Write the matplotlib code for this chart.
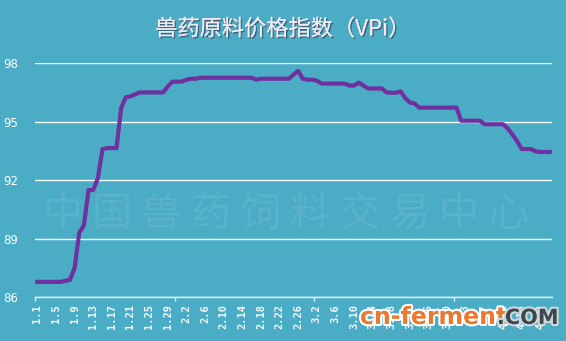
"""
兽药原料价格指数（VPi）折线图
"""

import matplotlib
matplotlib.use("Agg")
import matplotlib.pyplot as plt
import matplotlib.patheffects as pe
import numpy as np

# 数据：1.1 至 4.21 每日指数
values = [
    86.8, 86.8, 86.8, 86.8, 86.8, 86.8, 86.85, 86.9, 87.5, 89.3,
    89.7, 91.5, 91.5, 92.1, 93.6, 93.65, 93.65, 93.65, 95.7, 96.25,
    96.3, 96.4, 96.5, 96.5, 96.5, 96.5, 96.5, 96.5, 96.8, 97.05,
    97.05, 97.05, 97.15, 97.2, 97.2, 97.25, 97.25, 97.25, 97.25, 97.25,
    97.25, 97.25, 97.25, 97.25, 97.25, 97.25, 97.25, 97.15, 97.2, 97.2,
    97.2, 97.2, 97.2, 97.2, 97.2, 97.4, 97.6, 97.2, 97.15, 97.15,
    97.1, 96.95, 96.95, 96.95, 96.95, 96.95, 96.95, 96.85, 96.85, 97.0,
    96.85, 96.7, 96.7, 96.7, 96.7, 96.5, 96.48, 96.48, 96.55, 96.2,
    95.98, 95.93, 95.72, 95.72, 95.72, 95.72, 95.72, 95.72, 95.72, 95.72,
    95.72, 95.05, 95.05, 95.05, 95.05, 95.05, 94.87, 94.87, 94.87, 94.87,
    94.87, 94.65, 94.35, 94.0, 93.6, 93.6, 93.6, 93.48, 93.45, 93.45,
    93.45,
]
tick_labels = [
    "1.1", "1.5", "1.9", "1.13", "1.17", "1.21", "1.25", "1.29",
    "2.2", "2.6", "2.10", "2.14", "2.18", "2.22", "2.26",
    "3.2", "3.6", "3.10", "3.14", "3.18", "3.22", "3.26", "3.30",
    "4.3", "4.7", "4.11", "4.15", "4.19",
]
y_ticks = [86, 89, 92, 95, 98]
title = "兽药原料价格指数（VPi）"
watermark = "中国兽药饲料交易中心"

BG = "#4BACC6"
LINE = "#7030A0"

plt.rcParams["font.family"] = ["Noto Sans CJK SC", "DejaVu Sans"]

fig = plt.figure(figsize=(5.66, 3.41), dpi=100, facecolor=BG)
ax = fig.add_axes([0.0618, 0.1276, 0.9135, 0.6874], facecolor=BG)

x = np.arange(len(values))
ax.plot(x, values, color=LINE, lw=3.0, solid_joinstyle="round", zorder=3)

ax.set_xlim(-0.5, len(values) - 0.5)
ax.set_ylim(86, 98)

# 网格线
ax.set_yticks(y_ticks)
ax.yaxis.grid(True, color="white", lw=1.0)
ax.set_axisbelow(True)
for s in ["top", "right", "left"]:
    ax.spines[s].set_visible(False)
ax.spines["bottom"].set_color("#dfeff4")
ax.spines["bottom"].set_linewidth(1.0)

ax.tick_params(axis="y", length=0, pad=12, labelcolor="white", labelsize=8.5)
ax.set_yticklabels([str(v) for v in y_ticks], family="Arial")

# 日期标签，每 4 天一个
ax.set_xticks(x[::4])
ax.set_xticklabels(tick_labels, rotation=90, family="DejaVu Sans Mono", fontweight="bold")
ax.tick_params(axis="x", length=0, pad=5, labelcolor="#f4f8fa", labelsize=7.5)
ax.set_xticks(np.arange(-0.5, len(values), 30), minor=True)
ax.tick_params(axis="x", which="minor", length=3, color="#dfeff4", width=1)

# 水印
for k, ch in enumerate(watermark):
    fig.text(0.1095 + k * 0.0876, 0.372, ch, fontsize=29, color="white",
             alpha=0.08, ha="center", va="center")

fig.text(0.5, 0.915, title, fontsize=16, color="#f3e9f2", ha="center", va="center",
         path_effects=[pe.withSimplePatchShadow(offset=(1, -1), shadow_rgbFace="#303040", alpha=0.6),
                       pe.Normal()])

# 站点标识
fig.text(0.636, 0.05, "cn-ferment", fontsize=17, fontweight="bold", color="#e8792e",
         family="DejaVu Sans", ha="left", va="baseline",
         path_effects=[pe.withStroke(linewidth=3, foreground="white")])
fig.text(0.878, 0.05, ".COM", fontsize=15, fontweight="bold", color="#3d474c",
         family="DejaVu Sans", ha="left", va="baseline",
         path_effects=[pe.withStroke(linewidth=3, foreground="#cfd8dc")])

fig.savefig("out.png", dpi=100, facecolor=BG)
